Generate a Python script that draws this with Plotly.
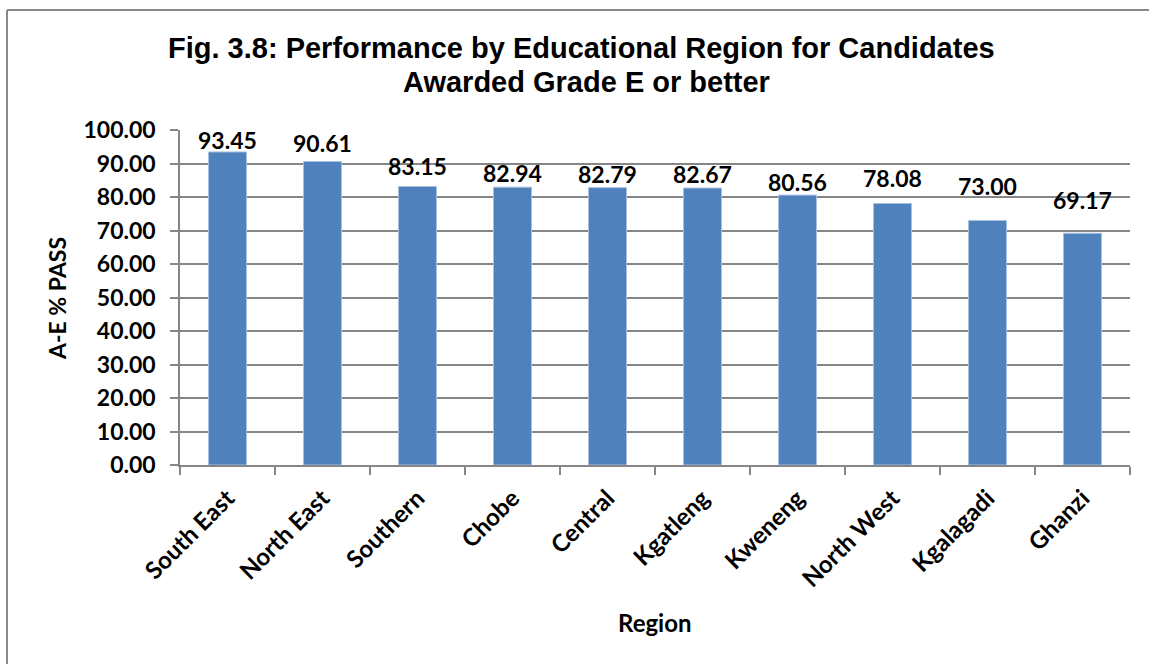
import plotly.graph_objects as go

regions = ["South East", "North East", "Southern", "Chobe", "Central",
           "Kgatleng", "Kweneng", "North West", "Kgalagadi", "Ghanzi"]
pass_rate = [93.45, 90.61, 83.15, 82.94, 82.79, 82.67, 80.56, 78.08, 73.00, 69.17]

title_line1 = "Fig. 3.8: Performance by Educational Region for Candidates"
title_line2 = "Awarded Grade E or better"
y_title = "A-E % PASS"
x_title = "Region"

# vertical lift (px) of each value label above its bar top
label_lift = [12, 18, 20, 14, 14, 14, 13, 25, 34, 33]

W, H = 1149, 664
ML, MR, MT, MB = 180, 19, 130, 199
PW, PH = W - ML - MR, H - MT - MB


def px_x(px):
    return (px - ML) / PW


def px_y(py):
    return (H - MB - py) / PH


GRID = "#868686"
LABEL_FONT = dict(family="Lato", size=23, color="black", weight="bold")

fig = go.Figure(
    go.Bar(
        x=regions,
        y=pass_rate,
        marker=dict(color="#4F81BD", line=dict(color="#A9C1E0", width=1)),
        hoverinfo="x+y",
    )
)

fig.update_layout(
    width=W,
    height=H,
    margin=dict(l=ML, r=MR, t=MT, b=MB, autoexpand=False),
    paper_bgcolor="white",
    plot_bgcolor="white",
    bargap=0.6,
    showlegend=False,
    font=dict(family="Lato", color="black"),
)

fig.update_yaxes(
    range=[0, 100],
    dtick=10,
    tickformat=".2f",
    showgrid=True,
    gridcolor=GRID,
    gridwidth=1.5,
    zeroline=False,
    showline=True,
    linecolor=GRID,
    linewidth=1.5,
    ticks="outside",
    ticklen=8,
    tickwidth=1.5,
    tickcolor=GRID,
    tickfont=LABEL_FONT,
    ticklabelstandoff=10,
    automargin=False,
)

fig.update_xaxes(
    showline=True,
    linecolor=GRID,
    linewidth=1.5,
    ticks="outside",
    tickson="boundaries",
    ticklen=8,
    tickwidth=1.5,
    tickcolor=GRID,
    tickangle=-45,
    tickfont=dict(family="Lato", size=24, color="black", weight="bold"),
    ticklabelstandoff=8,
    automargin=False,
)

TITLE_FONT = dict(family="Liberation Sans", size=29, color="black", weight="bold")
annotations = [
    dict(text=title_line1, x=px_x(581.5), y=px_y(48), font=TITLE_FONT),
    dict(text=title_line2, x=px_x(586), y=px_y(82), font=TITLE_FONT),
    dict(text=y_title, x=px_x(57), y=px_y(298), textangle=-90,
         font=dict(family="Lato", size=23, color="black", weight="bold")),
    dict(text=x_title, x=px_x(655), y=px_y(622),
         font=dict(family="Lato", size=24, color="black", weight="bold")),
]
for a in annotations:
    a.update(xref="paper", yref="paper", xanchor="center", yanchor="middle",
             showarrow=False)

# value labels above the bars
for name, val, lift in zip(regions, pass_rate, label_lift):
    annotations.append(dict(
        text=f"{val:.2f}", x=name, y=val, xref="x", yref="y",
        xanchor="center", yanchor="middle", yshift=lift,
        showarrow=False, font=LABEL_FONT,
    ))
fig.update_layout(annotations=annotations)

# Chart-area frame: left and top edges
bx, by = px_x(7), px_y(10)
fig.add_shape(type="line", xref="paper", yref="paper", x0=bx, y0=by, x1=1.2, y1=by,
              line=dict(color="#898989", width=2))
fig.add_shape(type="line", xref="paper", yref="paper", x0=bx, y0=by, x1=bx, y1=-1.0,
              line=dict(color="#898989", width=2))

fig.write_html("out.html")
